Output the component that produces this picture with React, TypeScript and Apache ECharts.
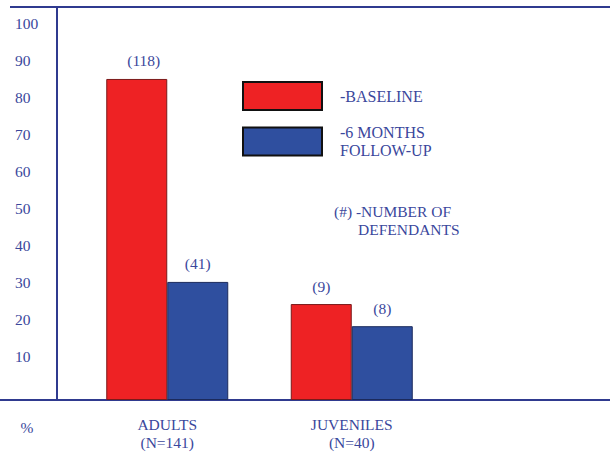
import React, { useEffect, useRef } from "react";
import * as echarts from "echarts";

const categories = ["ADULTS\n(N=141)", "JUVENILES\n(N=40)"];
const baselineValues = [87, 26];
const followUpValues = [32, 20];
const baselineCounts = ["(118)", "(9)"];
const followUpCounts = ["(41)", "(8)"];
const seriesNames = ["BASELINE", "6 MONTHS FOLLOW-UP"];
const legendLabels: Record<string, string> = {
  "BASELINE": "-BASELINE",
  "6 MONTHS FOLLOW-UP": "-6 MONTHS\nFOLLOW-UP",
};

const TEXT = "#3a479c";
const AXIS = "#2f3a8f";
const RED = "#ee2224";
const BLUE = "#2f4f9f";
const FONT = "'Liberation Serif', 'Times New Roman', serif";

export default function App() {
  const ref = useRef<HTMLDivElement>(null);
  useEffect(() => {
    if (!ref.current) return;
    const chart = echarts.init(ref.current, undefined, { renderer: "svg" });
    chart.setOption({
      animation: false,
      backgroundColor: "#ffffff",
      textStyle: { fontFamily: FONT },
      grid: { left: 75, right: 166, top: 7, bottom: 52 },
      xAxis: {
        type: "category",
        data: categories,
        axisLine: { show: false },
        axisTick: { show: false },
        axisLabel: {
          color: TEXT,
          fontFamily: FONT,
          fontSize: 15.5,
          lineHeight: 18,
          margin: 15,
        },
      },
      yAxis: {
        type: "value",
        min: 0,
        max: 106.5,
        interval: 10,
        offset: 18,
        axisLine: { show: true, lineStyle: { color: AXIS, width: 2 } },
        axisTick: { show: false },
        splitLine: { show: false },
        axisLabel: {
          color: TEXT,
          fontFamily: FONT,
          fontSize: 15.5,
          align: "left",
          verticalAlign: "bottom",
          lineHeight: 14,
          margin: 42,
          formatter: (v: number) => (v > 0 && v <= 100 && v % 10 === 0 ? String(v) : ""),
        },
      },
      legend: [
        {
          data: [
            {
              name: seriesNames[0],
              textStyle: { padding: [5, 0, 0, 13] },
            },
          ],
          left: 242,
          top: 81,
          padding: 0,
          orient: "vertical",
          itemWidth: 79,
          itemHeight: 28,
          icon: "rect",
          itemStyle: { borderColor: "#111111", borderWidth: 2 },
          selectedMode: false,
          formatter: (n: string) => legendLabels[n],
          textStyle: { color: TEXT, fontFamily: FONT, fontSize: 16, lineHeight: 18 },
        },
        {
          data: [
            {
              name: seriesNames[1],
              textStyle: { padding: [23, 0, 0, 13] },
            },
          ],
          left: 242,
          top: 112,
          padding: 0,
          orient: "vertical",
          itemWidth: 79,
          itemHeight: 28,
          icon: "rect",
          itemStyle: { borderColor: "#111111", borderWidth: 2 },
          selectedMode: false,
          formatter: (n: string) => legendLabels[n],
          textStyle: { color: TEXT, fontFamily: FONT, fontSize: 16, lineHeight: 18 },
        },
      ],
      graphic: [
        {
          type: "line",
          shape: { x1: 10, y1: 7, x2: 610, y2: 7 },
          style: { stroke: AXIS, lineWidth: 2 },
        },
        {
          type: "line",
          shape: { x1: 0, y1: 400, x2: 610, y2: 400 },
          style: { stroke: AXIS, lineWidth: 2 },
        },
        {
          type: "text",
          x: 27,
          y: 427,
          style: {
            text: "%",
            fill: TEXT,
            font: `15.5px ${FONT}`,
            textAlign: "center",
            textVerticalAlign: "middle",
          },
        },
        {
          type: "text",
          x: 334,
          y: 211,
          style: {
            text: "(#) -NUMBER OF",
            fill: TEXT,
            font: `15.5px ${FONT}`,
            textVerticalAlign: "middle",
          },
        },
        {
          type: "text",
          x: 358,
          y: 229,
          style: {
            text: "DEFENDANTS",
            fill: TEXT,
            font: `15.5px ${FONT}`,
            textVerticalAlign: "middle",
          },
        },
      ],
      series: [
        {
          name: seriesNames[0],
          type: "bar",
          data: baselineValues.map((v, i) =>
            i === 0 ? { value: v, label: { offset: [7, 0] } } : v
          ),
          barWidth: 61,
          barGap: "0%",
          itemStyle: { color: RED, borderColor: "#7a1a1a", borderWidth: 1 },
          label: {
            show: true,
            position: "top",
            distance: 10,
            color: TEXT,
            fontFamily: FONT,
            fontSize: 15.5,
            formatter: (p: any) => baselineCounts[p.dataIndex],
          },
        },
        {
          name: seriesNames[1],
          type: "bar",
          data: followUpValues,
          barWidth: 61,
          barGap: "0%",
          itemStyle: { color: BLUE, borderColor: "#1b2a5c", borderWidth: 1 },
          label: {
            show: true,
            position: "top",
            distance: 10,
            color: TEXT,
            fontFamily: FONT,
            fontSize: 15.5,
            formatter: (p: any) => followUpCounts[p.dataIndex],
          },
        },
      ],
    });
    return () => chart.dispose();
  }, []);
  return (
    <div
      ref={ref}
      style={{ position: "fixed", left: 0, top: 0, width: 610, height: 452 }}
    />
  );
}
